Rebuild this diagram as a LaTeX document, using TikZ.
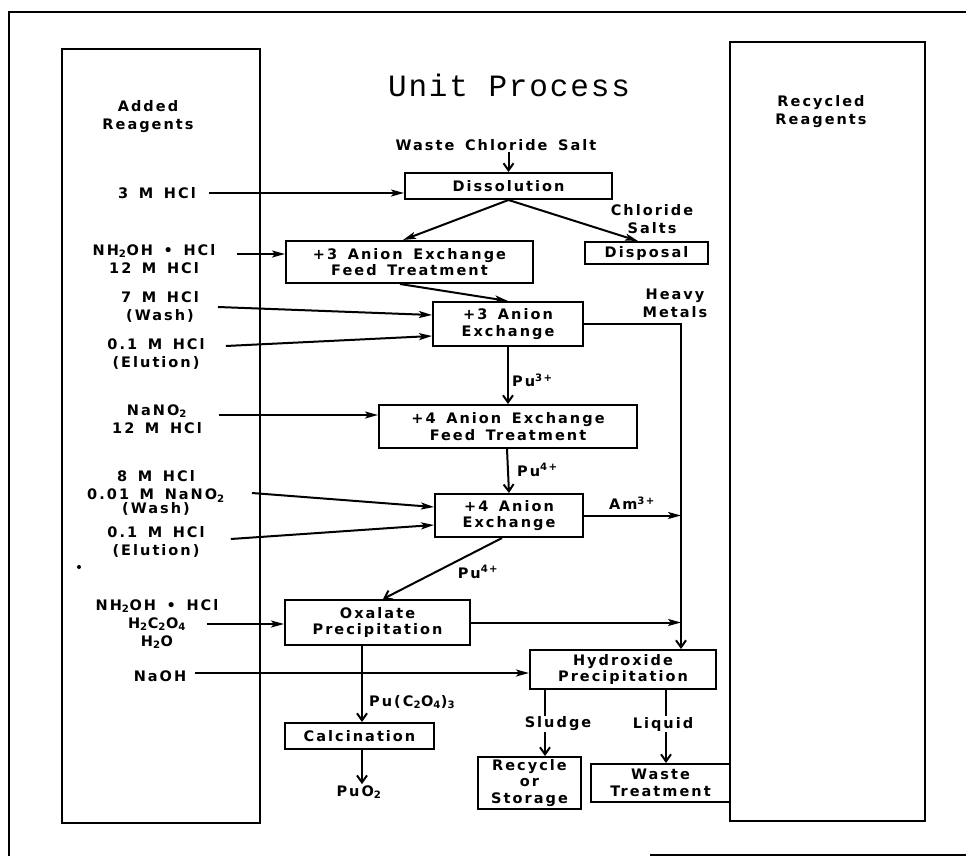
\documentclass[tikz,border=0pt]{standalone}
\usepackage{fontspec}
\usetikzlibrary{arrows.meta}
\newfontfamily\labfont[LetterSpace=14,WordSpace=1.5]{DejaVu Sans}
\newfontfamily\titlefont[LetterSpace=6]{Liberation Mono}
\tikzset{
  lab/.style={font=\labfont\bfseries\fontsize{14.5}{18}\selectfont, align=center, inner sep=1pt},
  box/.style={draw, line width=2pt, font=\labfont\bfseries\fontsize{14.5}{16.5}\selectfont, align=center, inner sep=0pt},
  bigbox/.style={draw, line width=1.6pt, inner sep=0pt},
  feed/.style={line width=2pt, -{Stealth[length=13pt, width=7pt, inset=3pt]}},
  vee/.style={line width=2pt, -{Straight Barb[length=7pt, width=10pt]}},
  plain/.style={line width=2pt},
  frame/.style={line width=2.6pt}
}
\begin{document}
\begin{tikzpicture}[x=1pt, y=-1pt]
\useasboundingbox (0,0) rectangle (966,856);
% outer frame
\coordinate (fbl) at (9,856);
\coordinate (ftl) at (9,12);
\coordinate (ftr) at (966,12);
\coordinate (fb1) at (650,855);
\coordinate (fb2) at (966,855);
\draw[frame] (fbl) -- (ftl) -- (ftr);
\draw[frame] (fb1) -- (fb2);
% side boxes
\node[bigbox, minimum width=198pt, minimum height=774pt] (addbox) at (161,436) {};
\node[bigbox, minimum width=195pt, minimum height=779pt] (recbox) at (827.5,431.5) {};
% title
\node[font=\titlefont\fontsize{31}{36}\selectfont, inner sep=0pt] (title) at (509,85) {Unit Process};
% left labels
\node[lab] (added) at (148,117) {Added\\Reagents};
\node[lab] (recyc) at (821,112) {Recycled\\Reagents};
\node[lab] (waste) at (496,145) {Waste Chloride Salt};
\node[lab] (l3m) at (157,193) {3 M HCl};
\node[lab] (lnh) at (154,259) {NH\textsubscript{2}OH • HCl\\12 M HCl};
\node[lab] (l7) at (160,307) {7 M HCl\\(Wash)};
\node[lab] (l01a) at (156,354) {0.1 M HCl\\(Elution)};
\node[lab] (lnano) at (157,419) {NaNO\textsubscript{2}\\12 M HCl};
\node[lab] (l8) at (156,493) {8 M HCl\\0.01 M NaNO\textsubscript{2}\\[-4pt](Wash)};
\node[lab] (l01b) at (156,542) {0.1 M HCl\\(Elution)};
\node[lab] (lox) at (157,624) {NH\textsubscript{2}OH • HCl\\H\textsubscript{2}C\textsubscript{2}O\textsubscript{4}\\H\textsubscript{2}O};
\node[lab] (lnaoh) at (160,676) {NaOH};
\fill (79,567) circle (2pt);
% process boxes
\node[box, minimum width=207pt, minimum height=26pt] (diss) at (508.5,186) {Dissolution};
\node[box, minimum width=247pt, minimum height=42pt] (f3) at (409.5,262) {+3 Anion Exchange\\Feed Treatment};
\node[box, minimum width=123pt, minimum height=22pt] (disp) at (646.5,253) {Disposal};
\node[box, minimum width=150pt, minimum height=44pt] (ae3) at (508,324) {+3 Anion\\Exchange};
\node[box, minimum width=258pt, minimum height=43pt] (f4) at (508,426.5) {+4 Anion Exchange\\Feed Treatment};
\node[box, minimum width=148pt, minimum height=43pt] (ae4) at (509,515.5) {+4 Anion\\Exchange};
\node[box, minimum width=185pt, minimum height=45pt] (oxa) at (377.5,622.5) {Oxalate\\Precipitation};
\node[box, minimum width=186pt, minimum height=39pt] (hyd) at (623,669.5) {Hydroxide\\Precipitation};
\node[box, minimum width=149pt, minimum height=26pt] (calc) at (359.5,736) {Calcination};
\node[box, minimum width=103pt, minimum height=52pt] (rec) at (529.5,783) {Recycle\\or\\Storage};
\node[box, minimum width=139pt, minimum height=38pt] (wt) at (660.5,783) {Waste\\Treatment};
% flow labels
\node[lab] (cls) at (652,219) {Chloride\\Salts};
\node[lab] (hvm) at (675,303) {Heavy\\Metals};
\node[lab, anchor=west] (pu3) at (511,380) {Pu\textsuperscript{3+}};
\node[lab, anchor=west] (pu4a) at (516,470) {Pu\textsuperscript{4+}};
\node[lab] (am3) at (632,503) {Am\textsuperscript{3+}};
\node[lab] (pu4b) at (478,572) {Pu\textsuperscript{4+}};
\node[lab, anchor=west] (puox) at (368,702) {Pu(C\textsubscript{2}O\textsubscript{4})\textsubscript{3}};
\node[lab] (puo2) at (359,792) {PuO\textsubscript{2}};
\node[lab] (sludge) at (558,724) {Sludge};
\node[lab] (liquid) at (663,724) {Liquid};
% connectors
\draw[vee] (waste.south -| diss.north) -- (diss.north);
\draw[feed] ([xshift=12pt]l3m.east) -- (l3m.east -| diss.west);
\draw[feed] (diss.south) -- ([xshift=-6.5pt]f3.north);
\draw[feed] (diss.south) -- ([xshift=-8.5pt]disp.north);
\draw[feed] ([xshift=20pt,yshift=5pt]lnh.east) -- ([yshift=8pt]f3.west);
\draw[feed] ([xshift=-9.5pt]f3.south) -- (ae3.north);
\draw[feed] ([xshift=18pt]l7.east) -- ([yshift=9pt]ae3.west);
\draw[feed] ([xshift=20pt,yshift=8pt]l01a.east) -- ([yshift=-12pt]ae3.west);
\coordinate (hm) at (681,324);
\draw[vee] (ae3.east) -- (hm) -- (hm |- hyd.north);
\draw[vee] (ae3.south) -- (f4.north);
\draw[feed] ([xshift=16pt,yshift=4pt]lnano.east) -- ([yshift=11.5pt]f4.west);
\draw[vee] ([xshift=-1pt]f4.south) -- (ae4.north);
\draw[feed] ([xshift=26pt]l8.east) -- ([yshift=8.5pt]ae4.west);
\draw[feed] ([xshift=25pt,yshift=3pt]l01b.east) -- ([yshift=-9.5pt]ae4.west);
\draw[feed] (ae4.east) -- (ae4.east -| hm);
\draw[vee] ([xshift=-7pt]ae4.south) -- ([xshift=5.5pt]oxa.north);
\draw[feed] ([xshift=-13pt]lox.east) -- (lox.east -| oxa.west);
\draw[feed] (oxa.east) -- (oxa.east -| hm);
\draw[feed] ([xshift=8pt,yshift=3pt]lnaoh.east) -- ([yshift=-3.5pt]hyd.west);
\draw[vee] ([xshift=-15.5pt]oxa.south) -- ([xshift=2.5pt]calc.north);
\draw[vee] ([xshift=2.5pt]calc.south) -- ([xshift=3pt]puo2.north);
\draw[plain] ([xshift=-78pt]hyd.south) -- ([xshift=-13pt]sludge.north);
\draw[vee] ([xshift=-13pt]sludge.south) -- ([xshift=15.5pt]rec.north);
\draw[plain] ([xshift=43pt]hyd.south) -- ([xshift=3pt]liquid.north);
\draw[vee] ([xshift=3pt]liquid.south) -- ([xshift=5.5pt]wt.north);
\end{tikzpicture}
\end{document}
